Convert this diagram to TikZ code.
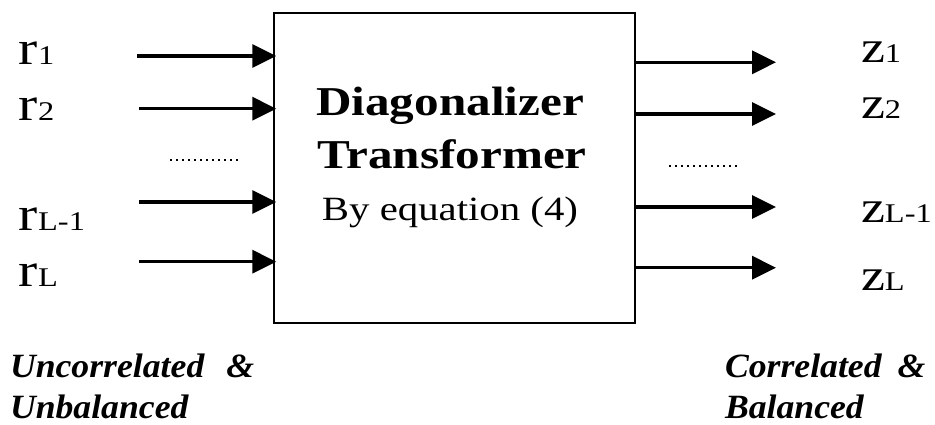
\documentclass[tikz,border=0pt]{standalone}
\usepackage{fontspec}
\setmainfont{Liberation Serif}
\newfontfamily\chanfont{Liberation Serif}[FakeStretch=1.2]
\newfontfamily\boxfont{Liberation Serif}[FakeStretch=1.2]
\newfontfamily\notefont{Liberation Serif}[FakeStretch=1.05]
\usetikzlibrary{arrows.meta}

% channel label: letter, subscript on the same baseline, letter size
\newcommand{\chan}[3]{{\chanfont\fontsize{#3}{#3}\selectfont #1}{\chanfont\fontsize{27}{27}\selectfont #2}}

\begin{document}
\begin{tikzpicture}[x=1pt,y=-1pt,
  sig/.style={line width=3.4pt,-{Triangle[length=24pt,width=23pt]}},
  dots/.style={line width=1.8pt,dash pattern=on 1.8pt off 4.2pt},
  blockbox/.style={draw,line width=2pt,minimum width=361pt,minimum height=310pt,inner sep=0pt},
  txt/.style={inner sep=0pt,outer sep=0pt},
]
\useasboundingbox[fill=white] (0,0) rectangle (935,424);

% the transformer block
\node[blockbox] (box) at (454.75,167.5) {};
\node[txt,anchor=base] (t1) at (450,115) {\boxfont\bfseries\fontsize{41}{41}\selectfont Diagonalizer};
\node[txt,anchor=base] (t2) at (452,168) {\boxfont\bfseries\fontsize{41}{41}\selectfont Transformer};
\node[txt,anchor=base] (t3) at (450,220) {\boxfont\fontsize{34}{34}\selectfont By equation (4)};

% input labels
\node[txt,anchor=base west] (r1) at (19,64) {\chan{r}{1}{48}};
\node[txt,anchor=base west] (r2) at (19,120) {\chan{r}{2}{48}};
\node[txt,anchor=base west] (rL1) at (19,230) {\chan{r}{L-1}{48}};
\node[txt,anchor=base west] (rL) at (19,286) {\chan{r}{L}{48}};

% output labels
\node[txt,anchor=base west] (z1) at (861,62) {\chan{z}{1}{45}};
\node[txt,anchor=base west] (z2) at (861,118) {\chan{z}{2}{45}};
\node[txt,anchor=base west] (zL1) at (861,222) {\chan{z}{L-1}{45}};
\node[txt,anchor=base west] (zL) at (861,290) {\chan{z}{L}{45}};

% input arrows
\coordinate (a1) at (137,56);
\coordinate (a2) at (139,108.7);
\coordinate (a3) at (139,202);
\coordinate (a4) at (139,261.7);
\foreach \c in {a1,a2,a3,a4}
  \draw[sig] (\c) -- ([xshift=3pt]\c -| box.west);

% output arrows
\coordinate (b1) at (776,62.3);
\coordinate (b2) at (776,114);
\coordinate (b3) at (776,207);
\coordinate (b4) at (776,267.7);
\foreach \c in {b1,b2,b3,b4}
  \draw[sig] (\c -| box.east) -- (\c);

% ellipsis rows
\coordinate (d1) at (170,160);
\coordinate (d2) at (238,160);
\coordinate (e1) at (669,165.7);
\coordinate (e2) at (737,165.7);
\draw[dots] (d1) -- (d2);
\draw[dots] (e1) -- (e2);

% notes under the block
\node[txt,anchor=base west] (n1) at (10,377) {\notefont\bfseries\itshape\fontsize{34}{34}\selectfont Uncorrelated\hspace{22pt}\&};
\node[txt,anchor=base west] (n2) at (10,418) {\notefont\bfseries\itshape\fontsize{34}{34}\selectfont Unbalanced};
\node[txt,anchor=base west] (n3) at (725,377) {\notefont\bfseries\itshape\fontsize{34}{34}\selectfont Correlated\hspace{16pt}\&};
\node[txt,anchor=base west] (n4) at (725,418) {\notefont\bfseries\itshape\fontsize{34}{34}\selectfont Balanced};
\end{tikzpicture}
\end{document}
